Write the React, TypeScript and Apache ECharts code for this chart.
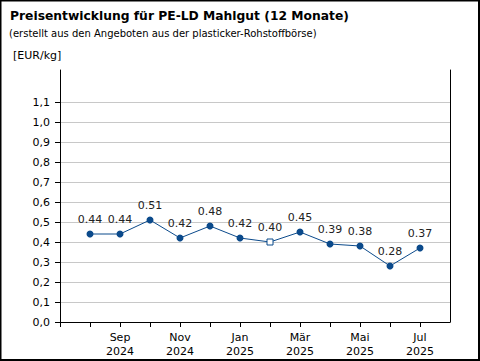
import React, { useEffect, useRef } from "react";
import * as echarts from "echarts";

const months = ["Aug", "Sep", "Okt", "Nov", "Dez", "Jan", "Feb", "Mär", "Apr", "Mai", "Jun", "Jul"];
const years = ["2024", "2024", "2024", "2024", "2024", "2025", "2025", "2025", "2025", "2025", "2025", "2025"];
const prices = [0.44, 0.44, 0.51, 0.42, 0.48, 0.42, 0.40, 0.45, 0.39, 0.38, 0.28, 0.37];
const hollowIndex = [6];
const yTicks = [0, 0.1, 0.2, 0.3, 0.4, 0.5, 0.6, 0.7, 0.8, 0.9, 1.0, 1.1];
const xLabelPositions = [2, 4, 6, 8, 10, 12];
const xTickPositions = [0, 1, 2, 3, 4, 5, 6, 7, 8, 9, 10, 11, 12];

const FONT = "DejaVu Sans, Verdana, sans-serif";
const BLUE = "#0b4a8b";

export default function App() {
  const ref = useRef<HTMLDivElement>(null);
  useEffect(() => {
    document.body.style.margin = "0";
    const chart = echarts.init(ref.current!, null, { renderer: "svg" });
    const data = prices.map((p, i) => {
      const hollow = hollowIndex.includes(i);
      return {
        value: [i + 1, p],
        symbol: hollow ? "rect" : "circle",
        symbolSize: hollow ? 6 : 7,
        itemStyle: hollow
          ? { color: "#ffffff", borderColor: BLUE, borderWidth: 1 }
          : { color: BLUE },
      };
    });
    chart.setOption({
      animation: false,
      backgroundColor: "#ffffff",
      textStyle: { fontFamily: FONT },
      grid: { left: 60, right: 30, top: 70, bottom: 39, containLabel: false },
      graphic: [
        {
          type: "rect",
          shape: { x: 0.5, y: 0.5, width: 478.5, height: 359.5 },
          style: { fill: "none", stroke: "#000", lineWidth: 2 },
          silent: true,
        },
        {
          type: "text",
          left: 10,
          top: 10,
          style: {
            text: "Preisentwicklung für PE-LD Mahlgut (12 Monate)",
            font: `bold 12.3px ${FONT}`,
            fill: "#000",
          },
        },
        {
          type: "text",
          left: 9,
          top: 28,
          style: {
            text: "(erstellt aus den Angeboten aus der plasticker-Rohstoffbörse)",
            font: `10px ${FONT}`,
            fill: "#000",
          },
        },
        {
          type: "text",
          left: 13,
          top: 50,
          style: { text: "[EUR/kg]", font: `11px ${FONT}`, fill: "#000" },
        },
      ],
      xAxis: {
        type: "value",
        min: 0,
        max: 13,
        interval: 1,
        splitLine: { show: false },
        axisLine: { show: true, onZero: false, lineStyle: { color: "#000", width: 1 } },
        axisTick: { show: true, length: 5, customValues: xTickPositions, lineStyle: { color: "#000" } },
        axisLabel: {
          customValues: xLabelPositions,
          margin: 8,
          color: "#000",
          fontSize: 11,
          fontFamily: FONT,
          lineHeight: 14,
          formatter: (v: number) => {
            const i = Math.round(v) - 1;
            return i >= 0 && i < months.length ? `${months[i]}\n${years[i]}` : "";
          },
        },
      },
      yAxis: [
        {
          type: "value",
          min: 0,
          max: 1.26,
          interval: 0.1,
          axisLine: { show: true, lineStyle: { color: "#000", width: 1 } },
          axisTick: { show: true, length: 5, customValues: yTicks, lineStyle: { color: "#000" } },
          splitLine: { show: true, lineStyle: { color: "#c8c8c8", width: 1 } },
          axisLabel: {
            customValues: yTicks,
            margin: 10,
            color: "#000",
            fontSize: 11,
            fontFamily: FONT,
            formatter: (v: number) => v.toFixed(1).replace(".", ","),
          },
        },
        {
          type: "value",
          position: "right",
          min: 0,
          max: 1.26,
          axisLine: { show: true, lineStyle: { color: "#000", width: 1 } },
          axisTick: { show: false },
          axisLabel: { show: false },
          splitLine: { show: false },
        },
      ],
      series: [
        {
          type: "line",
          data,
          yAxisIndex: 0,
          lineStyle: { color: BLUE, width: 1 },
          itemStyle: { color: BLUE },
          label: {
            show: true,
            position: "top",
            distance: 6,
            color: "#222",
            fontSize: 11,
            fontFamily: FONT,
            formatter: (p: any) => p.value[1].toFixed(2),
          },
        },
      ],
    });
    return () => chart.dispose();
  }, []);
  return <div ref={ref} style={{ position: "absolute", left: 0, top: 0, width: 480, height: 361 }} />;
}
